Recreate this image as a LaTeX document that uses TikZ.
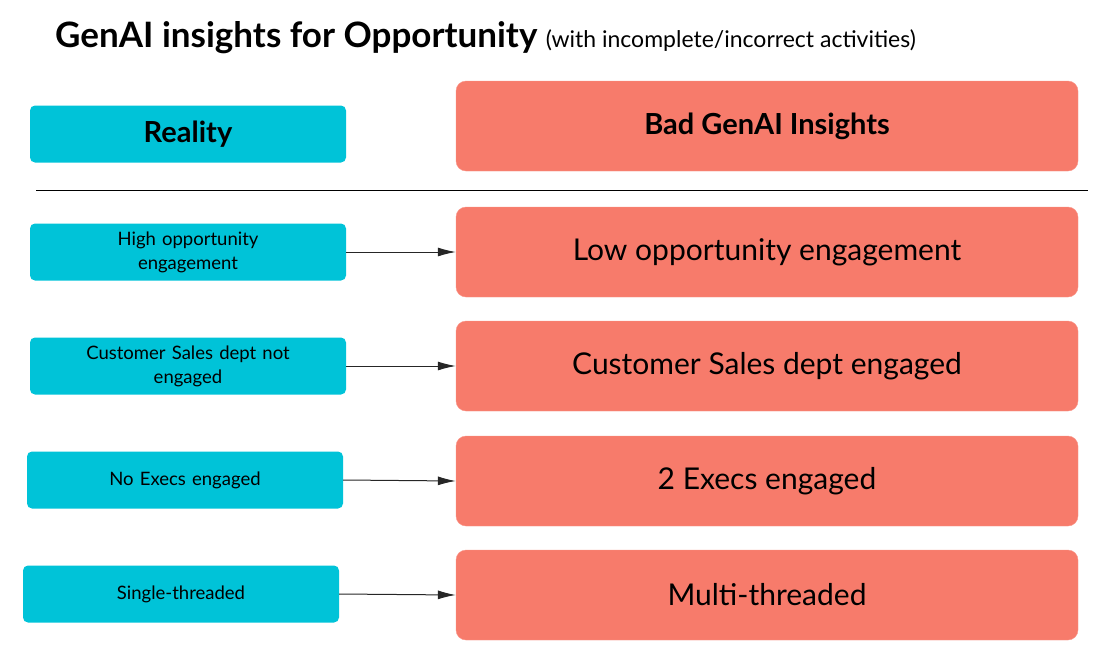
\documentclass[tikz,border=0pt]{standalone}
\usepackage{fontspec}
\setmainfont{Lato}
\usetikzlibrary{positioning,arrows.meta}
\definecolor{realcyan}{HTML}{00C3D8}
\definecolor{badsalmon}{HTML}{F77B6B}
\tikzset{
  reality/.style={fill=realcyan, rounded corners=5pt, minimum width=316pt, minimum height=57pt, align=center, text width=290pt, font=\fontsize{18.5}{24}\selectfont},
  insight/.style={fill=badsalmon, draw=badsalmon!80!white, rounded corners=10pt, minimum width=622pt, minimum height=90pt, align=center, font=\fontsize{30}{34}\selectfont},
  link/.style={-{Latex[length=18pt,width=9pt]}, line width=1pt, black!85}
}
\begin{document}
\begin{tikzpicture}[x=1pt,y=-1pt]
	\useasboundingbox (0,0) rectangle (1104,670);
	\node (title) [anchor=west, inner sep=0pt] at (55,38) {\fontsize{35}{40}\selectfont\bfseries GenAI insights for Opportunity \fontsize{23}{26}\selectfont\mdseries (with incomplete/incorrect activities)};
	% headers
	\node (realhead) [reality, font=\fontsize{29}{32}\selectfont\bfseries] at (188,134) {Reality};
	\node (badhead) [insight, font=\fontsize{29}{32}\selectfont\bfseries] at (767,126) {Bad GenAI Insights};
	\coordinate (sepl) at (36,190);
	\coordinate (sepr) at (1088,190);
	\draw [line width=1pt] (sepl) -- (sepr);
	% rows
	\node (real1) [reality] at (188,252) {High opportunity\\engagement};
	\node (real2) [reality] at (188,366) {Customer Sales dept not\\engaged};
	\node (real3) [reality] at (185,480) {No Execs engaged};
	\node (real4) [reality] at (181,594) {Single-threaded};
	\node (bad1) [insight] at (767,252) {Low opportunity engagement};
	\node (bad2) [insight] at (767,366) {Customer Sales dept engaged};
	\node (bad3) [insight] at (767,481) {2 Execs engaged};
	\node (bad4) [insight] at (767,595) {Multi-threaded};
	\foreach \i in {1,...,4}
		\draw [link] (real\i.east) -- (bad\i.west);
\end{tikzpicture}
\end{document}
